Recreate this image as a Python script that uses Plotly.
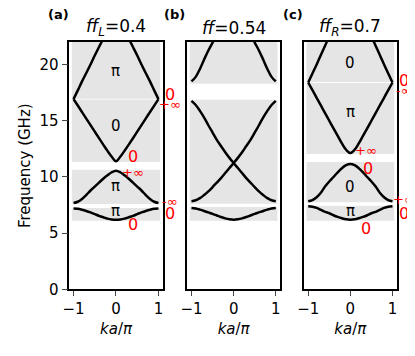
import plotly.graph_objects as go

# wavevector samples (ka/pi) shared by every band
k = [-1.0, -0.9, -0.8, -0.7, -0.6, -0.5, -0.4, -0.3, -0.2, -0.1, 0.0,
     0.1, 0.2, 0.3, 0.4, 0.5, 0.6, 0.7, 0.8, 0.9, 1.0]

# panel (a): ff_L = 0.4, band frequencies in GHz
a_band1 = [7.19, 7.17, 7.09, 6.98, 6.85, 6.70, 6.55, 6.42, 6.30, 6.23, 6.21,
           6.23, 6.30, 6.42, 6.55, 6.70, 6.85, 6.98, 7.09, 7.17, 7.19]
a_band2 = [7.69, 7.80, 8.05, 8.40, 8.80, 9.15, 9.50, 9.85, 10.15, 10.42, 10.56,
           10.42, 10.15, 9.85, 9.50, 9.15, 8.80, 8.40, 8.05, 7.80, 7.69]
a_band3 = [16.92, 16.35, 15.77, 15.19, 14.61, 14.03, 13.45, 12.88, 12.32, 11.80, 11.39,
           11.80, 12.32, 12.88, 13.45, 14.03, 14.61, 15.19, 15.77, 16.35, 16.92]
a_band4 = [16.92, 17.70, 18.50, 19.25, 20.00, 20.80, 21.55, 22.30, 23.05, 23.60, 23.80,
           23.60, 23.05, 22.30, 21.55, 20.80, 20.00, 19.25, 18.50, 17.70, 16.92]

# panel (b): ff = 0.54
b_band1 = [7.25, 7.20, 7.10, 6.98, 6.85, 6.72, 6.58, 6.44, 6.32, 6.24, 6.21,
           6.24, 6.32, 6.44, 6.58, 6.72, 6.85, 6.98, 7.10, 7.20, 7.25]
b_band_down = [16.77, 16.40, 15.88, 15.28, 14.60, 13.95, 13.30, 12.75, 12.20, 11.70, 11.24,
               10.80, 10.35, 9.90, 9.50, 9.10, 8.72, 8.40, 8.12, 7.93, 7.84]
b_band_up = b_band_down[::-1]
b_band4 = [18.50, 18.90, 19.60, 20.45, 21.25, 21.95, 22.70, 23.30, 23.80, 24.10, 24.20,
           24.10, 23.80, 23.30, 22.70, 21.95, 21.25, 20.45, 19.60, 18.90, 18.50]

# panel (c): ff_R = 0.7
c_band1 = [7.40, 7.36, 7.25, 7.08, 6.90, 6.78, 6.60, 6.45, 6.33, 6.24, 6.21,
           6.24, 6.33, 6.45, 6.60, 6.78, 6.90, 7.08, 7.25, 7.36, 7.40]
c_band2 = [7.84, 7.95, 8.20, 8.60, 9.15, 9.60, 10.00, 10.42, 10.78, 11.05, 11.15,
           11.05, 10.78, 10.42, 10.00, 9.60, 9.15, 8.60, 8.20, 7.95, 7.84]
c_band3 = [18.40, 17.72, 17.04, 16.36, 15.68, 15.00, 14.32, 13.65, 12.98, 12.42, 12.13,
           12.42, 12.98, 13.65, 14.32, 15.00, 15.68, 16.36, 17.04, 17.72, 18.40]
c_band4 = [18.40, 19.20, 20.00, 20.85, 21.67, 22.50, 23.30, 24.00, 24.50, 24.80, 24.90,
           24.80, 24.50, 24.00, 23.30, 22.50, 21.67, 20.85, 20.00, 19.20, 18.40]

# passbands (shaded), lower / upper edge in GHz
a_pass_lo = [6.12, 7.60, 11.33, 16.96]
a_pass_hi = [7.25, 10.65, 16.88, 22.0]
b_pass_lo = [6.12, 7.63, 18.28]
b_pass_hi = [7.34, 16.86, 22.0]
c_pass_lo = [6.12, 7.76, 12.04, 18.44]
c_pass_hi = [7.45, 11.33, 18.36, 22.0]

titles = ["<i>ff</i><sub><i>L</i></sub>=0.4", "<i>ff</i>=0.54", "<i>ff</i><sub><i>R</i></sub>=0.7"]
panel_tags = ["(a)", "(b)", "(c)"]

# mode labels at k=0
a_mode_txt = ["π", "0", "π", "π"]
a_mode_f = [19.4, 14.55, 9.17, 6.96]
c_mode_txt = ["0", "π", "0", "π"]
c_mode_f = [20.1, 15.77, 9.09, 6.96]

# red labels inside the panel: text, k, f
a_red = [("0", 0.40, 11.8), ("+∞", 0.41, 10.4), ("0", 0.41, 5.74)]
c_red = [("+∞", 0.38, 12.33), ("0", 0.41, 10.77), ("0", 0.38, 5.45)]
# red labels just right of the band edge: text, f
a_edge = [("0", 17.34), ("+∞", 16.48), ("-∞", 7.81), ("0", 6.72)]
c_edge = [("0", 18.6), ("-∞", 17.65), ("+∞", 7.96), ("0", 6.78)]

FONT = "DejaVu Sans"
GRAY = "#e5e5e5"
# page body adds an 8px margin, so the figure is 8px smaller than the window
W, H = 407, 348
domains = [[0.1506, 0.3801], [0.4405, 0.6683], [0.7273, 0.9550]]
ydom = [0.1911, 0.9023]
tag_x = [0.1253, 0.4103, 0.6995]

fig = go.Figure()

panels = [
    ([a_band1, a_band2, a_band3, a_band4], a_pass_lo, a_pass_hi),
    ([b_band1, b_band_up, b_band_down, b_band4], b_pass_lo, b_pass_hi),
    ([c_band1, c_band2, c_band3, c_band4], c_pass_lo, c_pass_hi),
]

for i, (bands, lo, hi) in enumerate(panels):
    xa = "x" if i == 0 else "x%d" % (i + 1)
    ya = "y" if i == 0 else "y%d" % (i + 1)
    for f in bands:
        fig.add_trace(go.Scatter(x=k, y=f, mode="lines", xaxis=xa, yaxis=ya,
                                 line=dict(color="black", width=2.5, shape="spline"),
                                 showlegend=False, hoverinfo="skip"))
    for y0, y1 in zip(lo, hi):
        fig.add_shape(type="rect", xref=xa, yref=ya, x0=-1.04, x1=1.04, y0=y0, y1=y1,
                      fillcolor=GRAY, line_width=0, layer="below")

    # panel title and tag
    fig.add_annotation(text=titles[i], xref="paper", yref="paper",
                       x=sum(domains[i]) / 2, y=0.9434, showarrow=False,
                       xanchor="center", yanchor="middle",
                       font=dict(family=FONT, size=17, color="black"))
    fig.add_annotation(text="<b>%s</b>" % panel_tags[i], xref="paper", yref="paper",
                       x=tag_x[i], y=0.9805, showarrow=False,
                       xanchor="center", yanchor="middle",
                       font=dict(family=FONT, size=13, color="black"))

# black mode labels
for txt, f in zip(a_mode_txt, a_mode_f):
    fig.add_annotation(text=txt, x=0, y=f, xref="x", yref="y", showarrow=False,
                       font=dict(family=FONT, size=15, color="black"))
for txt, f in zip(c_mode_txt, c_mode_f):
    fig.add_annotation(text=txt, x=0, y=f, xref="x3", yref="y3", showarrow=False,
                       font=dict(family=FONT, size=15, color="black"))

# red phase labels
def red_size(t):
    return 16 if t == "0" else 13

for xa, ya, red, edge in [("x", "y", a_red, a_edge), ("x3", "y3", c_red, c_edge)]:
    for txt, kk, f in red:
        fig.add_annotation(text=txt, x=kk, y=f, xref=xa, yref=ya, showarrow=False,
                           font=dict(family=FONT, size=red_size(txt), color="red"))
    for txt, f in edge:
        fig.add_annotation(text=txt, x=1.0, y=f, xref=xa, yref=ya, showarrow=False,
                           xshift=12,
                           font=dict(family=FONT, size=red_size(txt), color="red"))

axis_common = dict(showline=True, linecolor="black", linewidth=1.5, mirror=True,
                   showgrid=False, zeroline=False, automargin=False,
                   tickfont=dict(family=FONT, size=15, color="black"))

layout = dict(width=W, height=H, margin=dict(l=0, r=0, t=0, b=0),
              plot_bgcolor="white", paper_bgcolor="white",
              font=dict(family=FONT, color="black"))

for i in range(3):
    xname = "xaxis" if i == 0 else "xaxis%d" % (i + 1)
    yname = "yaxis" if i == 0 else "yaxis%d" % (i + 1)
    layout[xname] = dict(axis_common, domain=domains[i], range=[-1.1, 1.1],
                         anchor="y" if i == 0 else "y%d" % (i + 1),
                         tickvals=[-1, 0, 1], ticks="outside", ticklen=5, tickwidth=1.2,
                         title=dict(text="<i>ka</i>/<i>π</i>", standoff=6,
                                    font=dict(family=FONT, size=15, color="black")))
    ydict = dict(axis_common, domain=ydom, range=[0, 22],
                 anchor="x" if i == 0 else "x%d" % (i + 1))
    if i == 0:
        ydict.update(tickvals=[0, 5, 10, 15, 20], ticks="outside", ticklen=6, tickwidth=1.2,
                     title=dict(text="Frequency (GHz)", standoff=5,
                                font=dict(family=FONT, size=15, color="black")))
    else:
        ydict.update(showticklabels=False, ticks="")
    layout[yname] = ydict

fig.update_layout(**layout)

fig.write_html("out.html")
